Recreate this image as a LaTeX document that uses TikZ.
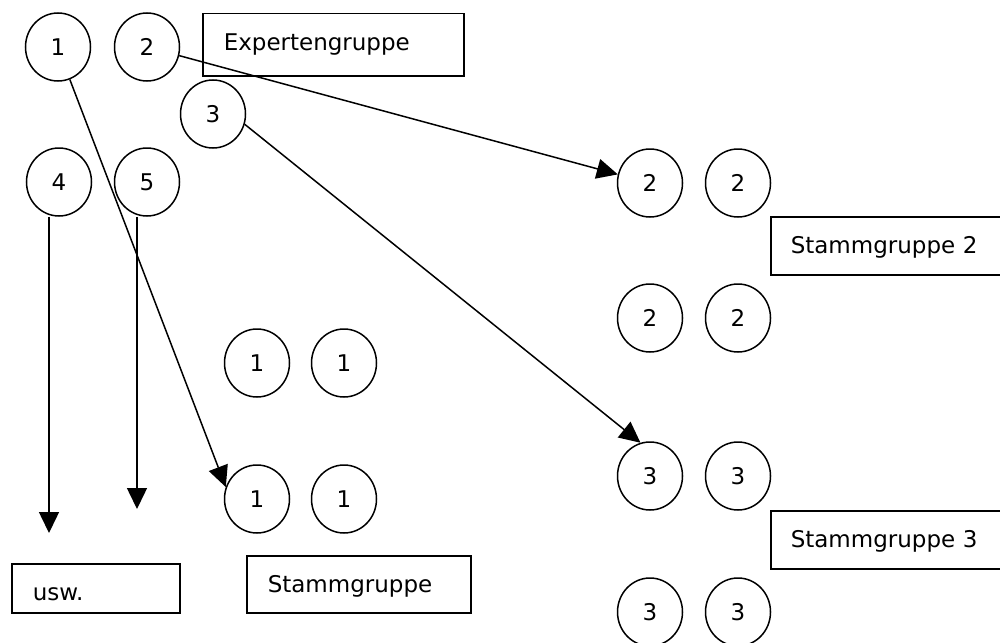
\documentclass[tikz,border=0pt]{standalone}
\usepackage{fontspec}
\setmainfont{DejaVu Sans}
\usetikzlibrary{shapes.geometric,arrows.meta}
\begin{document}
\begin{tikzpicture}[x=1pt,y=-1pt,
  every node/.style={font=\fontsize{23}{28}\selectfont},
  ell/.style={draw,ellipse,line width=1.5pt,minimum width=65pt,minimum height=68pt,inner sep=0pt},
  lbox/.style={draw,line width=1.5pt,anchor=north west,align=left,inner ysep=0pt,text height=37pt},
  arr/.style={line width=1.5pt,-{Triangle[length=21pt,width=20pt]}}]
\useasboundingbox (0,0) rectangle (1000,642);
% expert group circles
\node[ell] (c1) at (58,47) {1};
\node[ell] (c2) at (147,47) {2};
\node[ell] (c3) at (213,114) {3};
\node[ell] (c4) at (59,182) {4};
\node[ell] (c5) at (147,182) {5};
% Stammgruppe 1
\node[ell] (a1) at (257,363) {1};
\node[ell] (a2) at (344,363) {1};
\node[ell] (a3) at (257,499) {1};
\node[ell] (a4) at (344,499) {1};
% Stammgruppe 2
\node[ell] (b1) at (650,183) {2};
\node[ell] (b2) at (738,183) {2};
\node[ell] (b3) at (650,318) {2};
\node[ell] (b4) at (738,318) {2};
% Stammgruppe 3
\node[ell] (d1) at (650,476) {3};
\node[ell] (d2) at (738,476) {3};
\node[ell] (d3) at (650,612) {3};
\node[ell] (d4) at (738,612) {3};
% boxes
\node[lbox,inner xsep=21pt,text width=219pt,text depth=25pt] (ex) at (202,13) {Expertengruppe};
\node[lbox,inner xsep=20pt,text width=193pt,text depth=21pt] (s2) at (770,216) {Stammgruppe 2};
\node[lbox,inner xsep=20pt,text width=193pt,text depth=21pt] (s3) at (770,510) {Stammgruppe 3};
\node[lbox,inner xsep=21pt,text width=126pt,text depth=12pt] (us) at (11,563) {usw.};
\node[lbox,inner xsep=21pt,text width=182pt,text depth=20pt] (s1) at (246,555) {Stammgruppe};
% arrows
\draw[arr] (c1.-70) -- (a3.159);
\draw[arr] (c2.-15) -- (b1.165);
\draw[arr] (c3.-18) -- (d1.106);
\coordinate (e4) at (49,533);
\coordinate (e5) at (137,509);
\draw[arr] (e4 |- c4.south) -- (e4);
\draw[arr] (e5 |- c5.south) -- (e5);
\end{tikzpicture}
\end{document}
